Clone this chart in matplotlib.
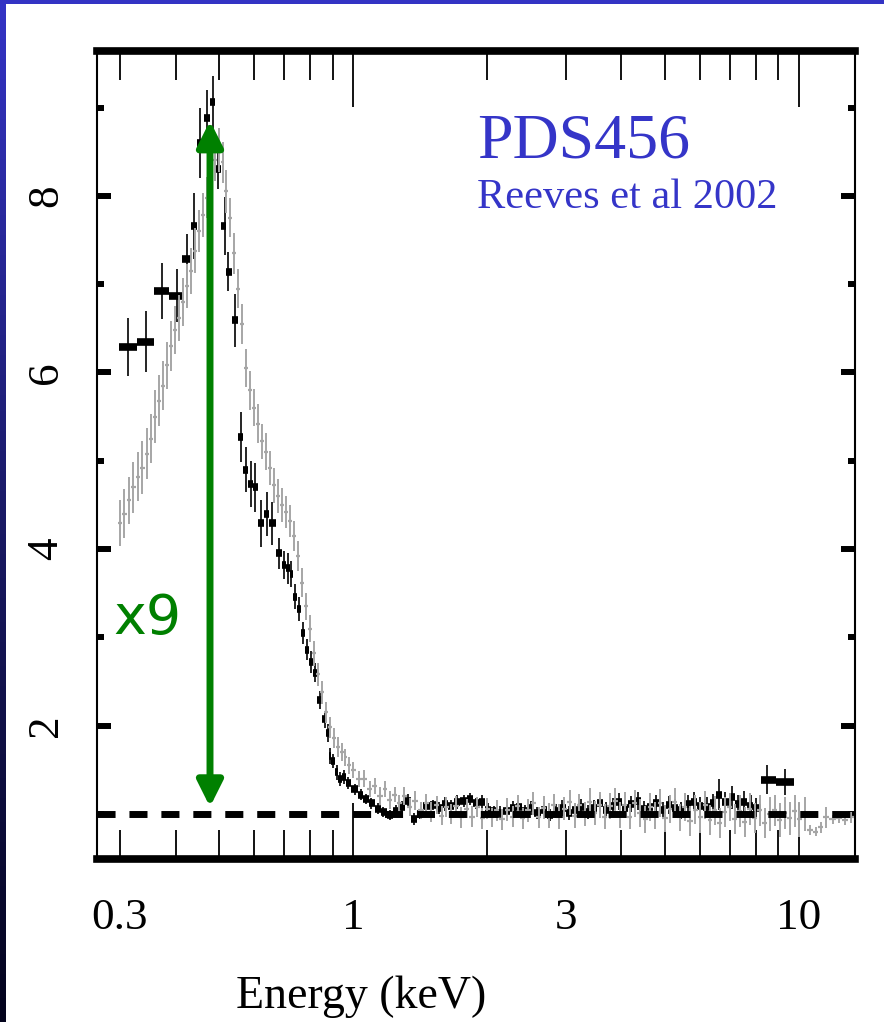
import numpy as np
import matplotlib
matplotlib.use("Agg")
import matplotlib.pyplot as plt
from matplotlib.colors import LinearSegmentedColormap
from matplotlib.patches import Rectangle, FancyArrowPatch

plt.rcParams['font.family'] = 'Liberation Serif'

# ── Spektrum 1 (schwarz): Energie (keV), Verhältnis, Fehler ──────────────────
schwarz_e = [0.313, 0.343, 0.373, 0.403, 0.425, 0.440, 0.454, 0.471, 0.485, 0.498,
             0.516, 0.525, 0.544, 0.561, 0.575, 0.590, 0.602, 0.622, 0.640, 0.658,
             0.683, 0.700, 0.715, 0.727, 0.742, 0.757, 0.773, 0.789, 0.806, 0.822,
             0.843, 0.865, 0.879, 0.888, 0.900, 0.921, 0.935, 0.955, 0.975,
             1.01, 1.04, 1.07, 1.10, 1.14, 1.17, 1.21, 1.25, 1.29, 1.33,
             1.37, 1.41, 1.46, 1.51, 1.56, 1.61, 1.66, 1.71, 1.77, 1.83,
             1.89, 1.95, 2.01, 2.07, 2.14, 2.21, 2.28, 2.35, 2.43, 2.51,
             2.59, 2.68, 2.77, 2.86, 2.95, 3.05, 3.15, 3.25, 3.36, 3.47,
             3.58, 3.70, 3.82, 3.95, 4.08, 4.21, 4.35, 4.49, 4.64, 4.79,
             4.95, 5.11, 5.28, 5.45, 5.63, 5.82, 6.01, 6.21, 6.41, 6.62,
             6.84, 7.07, 7.30, 7.54, 7.79, 8.02, 8.46, 9.30]
schwarz_v = [6.29, 6.35, 6.92, 6.87, 7.29, 7.66, 8.60, 8.88, 9.06, 8.30,
             7.66, 7.14, 6.59, 5.27, 4.90, 4.74, 4.70, 4.29, 4.40, 4.29,
             3.95, 3.82, 3.78, 3.72, 3.46, 3.32, 3.05, 2.86, 2.72, 2.60,
             2.29, 2.07, 1.92, 1.66, 1.60, 1.47, 1.40, 1.42, 1.35,
             1.28, 1.22, 1.17, 1.12, 1.06, 1.02, 0.99, 1.03, 1.08, 1.15,
             0.94, 1.00, 1.09, 1.10, 1.07, 1.11, 1.09, 1.14, 1.15, 1.17,
             1.12, 1.14, 1.05, 1.03, 1.01, 1.03, 1.07, 1.08, 1.03, 1.07,
             1.01, 1.05, 0.99, 1.03, 1.07, 1.01, 1.04, 1.08, 1.02, 1.07,
             1.12, 1.05, 1.09, 1.14, 1.07, 1.11, 1.15, 1.06, 1.08, 1.12,
             1.05, 1.10, 1.07, 1.04, 1.11, 1.14, 1.09, 1.08, 1.12, 1.22,
             1.14, 1.19, 1.11, 1.14, 1.09, 1.07, 1.39, 1.36]
schwarz_f = [0.33, 0.35, 0.32, 0.30, 0.28, 0.37, 0.40, 0.32, 0.30, 0.22,
             0.33, 0.22, 0.30, 0.28, 0.25, 0.26, 0.28, 0.27, 0.25, 0.24,
             0.18, 0.16, 0.18, 0.15, 0.14, 0.14, 0.12, 0.12, 0.12, 0.11,
             0.10, 0.10, 0.10, 0.09, 0.08, 0.08, 0.08, 0.08, 0.07,
             0.06, 0.06, 0.06, 0.06, 0.06, 0.06, 0.06, 0.07, 0.07, 0.08,
             0.07, 0.06, 0.07, 0.06, 0.07, 0.08, 0.07, 0.08, 0.07, 0.07,
             0.06, 0.08, 0.07, 0.06, 0.08, 0.07, 0.08, 0.08, 0.07, 0.08,
             0.07, 0.08, 0.07, 0.08, 0.09, 0.08, 0.08, 0.09, 0.08, 0.09,
             0.10, 0.08, 0.09, 0.10, 0.09, 0.09, 0.10, 0.09, 0.09, 0.10,
             0.09, 0.10, 0.10, 0.10, 0.10, 0.11, 0.10, 0.11, 0.11, 0.18,
             0.11, 0.13, 0.11, 0.12, 0.12, 0.11, 0.16, 0.15]

# ── Spektrum 2 (grau) ─────────────────────────────────────────────────────────
grau_e = [0.300, 0.307, 0.315, 0.322, 0.330, 0.337, 0.345, 0.352, 0.360, 0.367,
          0.375, 0.383, 0.391, 0.399, 0.407, 0.416, 0.424, 0.433, 0.442, 0.451,
          0.460, 0.470, 0.480, 0.490, 0.500, 0.510, 0.520, 0.531, 0.542, 0.553,
          0.564, 0.576, 0.588, 0.600, 0.612, 0.625, 0.638, 0.651, 0.665, 0.679,
          0.693, 0.707, 0.722, 0.737, 0.752, 0.768, 0.784, 0.800, 0.817, 0.834,
          0.851, 0.869, 0.887, 0.905, 0.924, 0.943, 0.962, 0.982,
          1.00, 1.03, 1.06, 1.09, 1.12, 1.15, 1.18, 1.21, 1.24, 1.27,
          1.30, 1.34, 1.38, 1.42, 1.46, 1.50, 1.54, 1.58, 1.62, 1.66,
          1.70, 1.75, 1.80, 1.85, 1.90, 1.95, 2.00, 2.05, 2.10, 2.16,
          2.22, 2.28, 2.34, 2.40, 2.47, 2.54, 2.61, 2.68, 2.75, 2.82,
          2.90, 2.98, 3.06, 3.14, 3.22, 3.31, 3.40, 3.49, 3.58, 3.67,
          3.77, 3.87, 3.97, 4.07, 4.18, 4.29, 4.40, 4.52, 4.64, 4.76,
          4.88, 5.01, 5.14, 5.27, 5.41, 5.55, 5.70, 5.85, 6.00, 6.16,
          6.32, 6.48, 6.65, 6.82, 7.00, 7.18, 7.37, 7.56, 7.76, 7.96,
          8.17, 8.38, 8.60, 8.82, 9.05, 9.29, 9.53, 9.78, 10.0, 10.3,
          10.6, 10.9, 11.2, 11.5, 11.9, 12.3, 12.7, 13.1]
grau_v = [4.30, 4.40, 4.55, 4.70, 4.82, 4.92, 5.08, 5.25, 5.50, 5.68,
          5.85, 6.08, 6.30, 6.48, 6.62, 6.80, 6.98, 7.15, 7.38, 7.60,
          7.78, 7.98, 8.20, 8.40, 8.52, 8.38, 8.05, 7.75, 7.35, 6.95,
          6.55, 6.05, 5.80, 5.60, 5.42, 5.22, 5.10, 4.92, 4.72, 4.60,
          4.50, 4.42, 4.32, 4.15, 3.92, 3.62, 3.35, 3.10, 2.82, 2.58,
          2.38, 2.15, 1.98, 1.86, 1.76, 1.70, 1.64, 1.55,
          1.50, 1.40, 1.40, 1.28, 1.32, 1.20, 1.28, 1.16, 1.22, 1.12,
          1.20, 1.08, 1.15, 1.04, 1.12, 1.02, 1.10, 0.98, 1.08, 1.00,
          1.09, 0.96, 1.06, 0.97, 1.08, 0.95, 1.06, 0.96, 1.04, 0.94,
          1.05, 0.97, 1.09, 0.95, 1.04, 1.12, 0.96, 1.07, 0.98, 1.10,
          0.97, 1.06, 1.13, 0.98, 1.10, 1.00, 1.14, 1.01, 1.10, 0.97,
          1.09, 1.15, 0.99, 1.10, 0.97, 1.12, 1.01, 0.94, 1.08, 0.98,
          1.12, 0.95, 1.06, 1.13, 0.96, 1.08, 0.92, 1.05, 0.96, 1.10,
          0.93, 1.04, 0.90, 1.02, 1.08, 0.94, 1.03, 0.91, 1.06, 0.95,
          1.04, 0.90, 1.00, 1.04, 0.93, 1.01, 0.95, 1.03, 0.94, 1.00,
          0.82, 0.80, 0.85, 0.96, 0.94, 0.95, 0.93, 0.96]
grau_f = [0.26, 0.28, 0.27, 0.29, 0.28, 0.30, 0.29, 0.28, 0.30, 0.29,
          0.28, 0.27, 0.28, 0.27, 0.26, 0.27, 0.25, 0.26, 0.25, 0.24,
          0.25, 0.23, 0.24, 0.23, 0.25, 0.23, 0.24, 0.22, 0.23, 0.22,
          0.23, 0.21, 0.22, 0.21, 0.22, 0.20, 0.21, 0.19, 0.20, 0.19,
          0.19, 0.18, 0.18, 0.17, 0.17, 0.16, 0.15, 0.15, 0.14, 0.13,
          0.13, 0.12, 0.12, 0.11, 0.11, 0.10, 0.10, 0.10,
          0.09, 0.09, 0.10, 0.09, 0.09, 0.10, 0.09, 0.10, 0.09, 0.10,
          0.10, 0.10, 0.11, 0.10, 0.11, 0.11, 0.10, 0.11, 0.11, 0.11,
          0.11, 0.12, 0.11, 0.12, 0.11, 0.12, 0.12, 0.11, 0.12, 0.12,
          0.13, 0.12, 0.13, 0.12, 0.13, 0.13, 0.12, 0.13, 0.14, 0.13,
          0.14, 0.13, 0.14, 0.14, 0.13, 0.14, 0.15, 0.14, 0.15, 0.14,
          0.15, 0.14, 0.15, 0.15, 0.14, 0.15, 0.16, 0.15, 0.16, 0.15,
          0.16, 0.15, 0.16, 0.16, 0.15, 0.16, 0.17, 0.16, 0.17, 0.16,
          0.17, 0.16, 0.17, 0.17, 0.16, 0.17, 0.18, 0.17, 0.18, 0.17,
          0.18, 0.17, 0.19, 0.18, 0.19, 0.18, 0.19, 0.18, 0.20, 0.19,
          0.06, 0.05, 0.06, 0.12, 0.05, 0.05, 0.05, 0.06]

# Achsenbeschriftung
x_major = [1, 10]
x_major_labels = ['1', '10']
x_minor = [0.3, 0.4, 0.5, 0.6, 0.7, 0.8, 0.9, 2, 3, 4, 5, 6, 7, 8, 9]
x_minor_labels = ['0.3', '', '', '', '', '', '', '', '3', '', '', '', '', '', '']
y_major = [2, 4, 6, 8]
y_minor = [1, 3, 5, 7, 9]

# Doppelpfeil: Faktor 9 zwischen Maximum und Kontinuum
pfeil_e = 0.478
pfeil_oben = 8.85
pfeil_unten = 1.08
kontinuum = 1.0


def bin_grenzen(e):
    """Geometrische Mittelpunkte zwischen Nachbar-Bins als Grenzen."""
    e = np.asarray(e)
    mitte = np.sqrt(e[:-1] * e[1:])
    lo = np.concatenate([[e[0] ** 2 / mitte[0]], mitte])
    hi = np.concatenate([mitte, [e[-1] ** 2 / mitte[-1]]])
    return lo, hi


fig = plt.figure(figsize=(8.84, 10.22), dpi=100)
fig.patch.set_facecolor('white')

# Folienrahmen: Farbverlauf links, blauer Balken oben
gax = fig.add_axes([0, 0, 6 / 884, 1])
verlauf = LinearSegmentedColormap.from_list('rahmen', ['#3434c6', '#1a1a66', '#03031c'])
gax.imshow(np.linspace(0, 1, 256).reshape(-1, 1), aspect='auto', cmap=verlauf)
gax.axis('off')
fig.add_artist(Rectangle((0, 1 - 4 / 1022), 1, 4 / 1022, transform=fig.transFigure,
                         color='#3333c4', lw=0))

ax = fig.add_axes([97 / 884, (1022 - 859) / 1022, (855 - 97) / 884, (859 - 51) / 1022])
ax.set_xscale('log')
ax.set_xlim(0.2667, 13.36)
ax.set_ylim(0.49, 9.64)

# graues Spektrum
g_lo, g_hi = bin_grenzen(grau_e)
gv = np.array(grau_v)
gf = np.array(grau_f)
ax.hlines(gv, g_lo, g_hi, color='#a6a6a6', lw=1.6, zorder=3)
ax.vlines(grau_e, gv - gf, gv + gf, color='#a6a6a6', lw=1.4, zorder=3)

# schwarzes Spektrum
s_lo, s_hi = bin_grenzen(schwarz_e)
sv = np.array(schwarz_v)
sf = np.array(schwarz_f)
ax.hlines(sv, s_lo, s_hi, color='black', lw=5.5, zorder=2)
ax.vlines(schwarz_e, sv - sf, sv + sf, color='black', lw=1.2, zorder=2)

# Kontinuumsniveau
ax.axhline(kontinuum, color='black', lw=5, ls=(0, (2.6, 2.0)), zorder=4)

pfeil = FancyArrowPatch((pfeil_e, pfeil_unten), (pfeil_e, pfeil_oben),
                        arrowstyle='<|-|>,head_length=0.7,head_width=0.35',
                        mutation_scale=22, color='green', lw=5, shrinkA=0, shrinkB=0,
                        zorder=5)
ax.add_patch(pfeil)
ax.text(0.021, 0.2785, 'x9', transform=ax.transAxes, color='green', fontsize=40,
        family='DejaVu Sans', ha='left', va='baseline', zorder=6)

ax.text(0.501, 0.868, 'PDS456', transform=ax.transAxes, color='#3535c8', fontsize=46,
        ha='left', va='baseline')
ax.text(0.501, 0.806, 'Reeves et al 2002', transform=ax.transAxes, color='#3535c8',
        fontsize=30.5, ha='left', va='baseline')

# Ticks
ax.set_xticks(x_major, x_major_labels)
ax.set_xticks(x_minor, x_minor_labels, minor=True)
ax.tick_params(axis='x', which='both', direction='in', top=True, bottom=True,
               width=1.3, labelsize=32.5, pad=28)
ax.tick_params(axis='x', which='major', length=40)
ax.tick_params(axis='x', which='minor', length=21)
ax.set_yticks(y_major)
ax.set_yticks(y_minor, minor=True)
ax.tick_params(axis='y', which='both', direction='in', left=True, right=True, width=4.3)
ax.tick_params(axis='y', which='major', length=10, labelsize=32.5, labelrotation=90, pad=22)
ax.tick_params(axis='y', which='minor', length=5)
for lbl in ax.get_yticklabels():
    lbl.set_va('center')

for seite in ['top', 'bottom']:
    ax.spines[seite].set_linewidth(5.5)
for seite in ['left', 'right']:
    ax.spines[seite].set_linewidth(1.5)

ax.set_xlabel('Energy (keV)', fontsize=33, x=0.348, labelpad=27)

plt.savefig('out.png', dpi=100)
